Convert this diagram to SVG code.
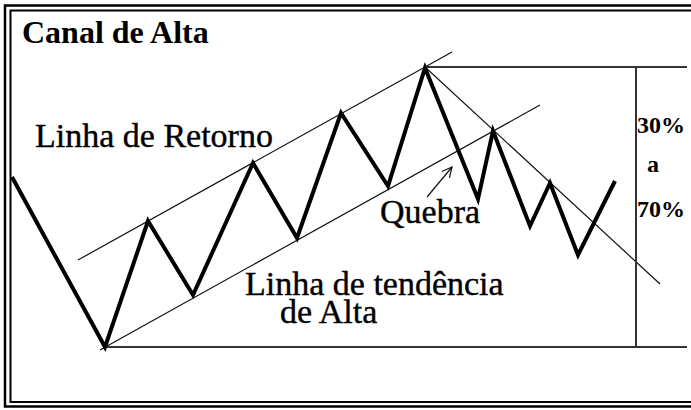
<svg xmlns="http://www.w3.org/2000/svg" width="691" height="410" viewBox="0 0 691 410">
  <defs>
    <style>
      .bg { fill: #ffffff; }
      .frame-outer { fill: none; stroke: #000; stroke-width: 2.5; }
      .frame-inner { fill: none; stroke: #000; stroke-width: 2; }
      .price { fill: none; stroke: #000; stroke-width: 4; stroke-linejoin: miter; stroke-miterlimit: 10; }
      .thin { fill: none; stroke: #111; stroke-width: 1.2; }
      .ref { fill: none; stroke: #333; stroke-width: 2; }
      .lbl { fill: #000; }
      .title { font-size: 32px; font-weight: bold; }
      .big { font-size: 34px; stroke: #000; stroke-width: 0.4; }
      .pct { font-size: 24px; font-weight: bold; }
    </style>
    <marker id="openArrow" viewBox="0 0 12 12" refX="11" refY="6" markerWidth="12" markerHeight="12" markerUnits="userSpaceOnUse" orient="auto">
      <path d="M1,1 L11,6 L1,11" fill="none" stroke="#111" stroke-width="1.2"/>
    </marker>
  </defs>

  <rect class="bg" x="0" y="0" width="691" height="410"/>

  <g id="frame">
    <rect class="frame-outer" x="5" y="5.5" width="700" height="401"/>
    <rect class="frame-inner" x="10.5" y="10.5" width="690" height="391.5"/>
  </g>

  <g id="title" font-family="'Liberation Serif', 'DejaVu Serif', serif">
    <text class="lbl title" x="22" y="43" font-family="'Liberation Serif', 'DejaVu Serif', serif">Canal de Alta</text>
  </g>

  <g id="connectors">
    <line class="thin" x1="78" y1="260" x2="452" y2="52"/>
    <line class="thin" x1="100" y1="350" x2="540" y2="105"/>
    <line class="thin" x1="425" y1="67" x2="660" y2="284"/>
    <line class="ref" x1="425" y1="67" x2="687" y2="67"/>
    <line class="ref" x1="105" y1="347" x2="687" y2="347"/>
    <line class="ref" x1="636" y1="67" x2="636" y2="347"/>
    <line class="thin" x1="427" y1="197" x2="452" y2="167" marker-end="url(#openArrow)"/>
  </g>

  <g id="price">
    <polyline class="price" points="12,177 105,347 148,221 193,295 253,163 297,238 341,113 388,186 425,68 478,199 493,131 530,226 550,183 578,255 615,181"/>
  </g>

  <g id="label-retorno">
    <text class="lbl big" x="35" y="147" font-family="'Liberation Serif', 'DejaVu Serif', serif">Linha de Retorno</text>
  </g>
  <g id="label-quebra">
    <text class="lbl big" x="380" y="223" font-family="'Liberation Serif', 'DejaVu Serif', serif">Quebra</text>
  </g>
  <g id="label-tendencia">
    <text class="lbl big" x="245" y="295" font-family="'Liberation Serif', 'DejaVu Serif', serif">Linha de tendência</text>
    <text class="lbl big" x="280" y="323" font-family="'Liberation Serif', 'DejaVu Serif', serif">de Alta</text>
  </g>
  <g id="label-pct">
    <text class="lbl pct" x="637" y="133" font-family="'Liberation Serif', 'DejaVu Serif', serif">30%</text>
    <text class="lbl pct" x="647" y="172" font-family="'Liberation Serif', 'DejaVu Serif', serif">a</text>
    <text class="lbl pct" x="637" y="217" font-family="'Liberation Serif', 'DejaVu Serif', serif">70%</text>
  </g>
</svg>
